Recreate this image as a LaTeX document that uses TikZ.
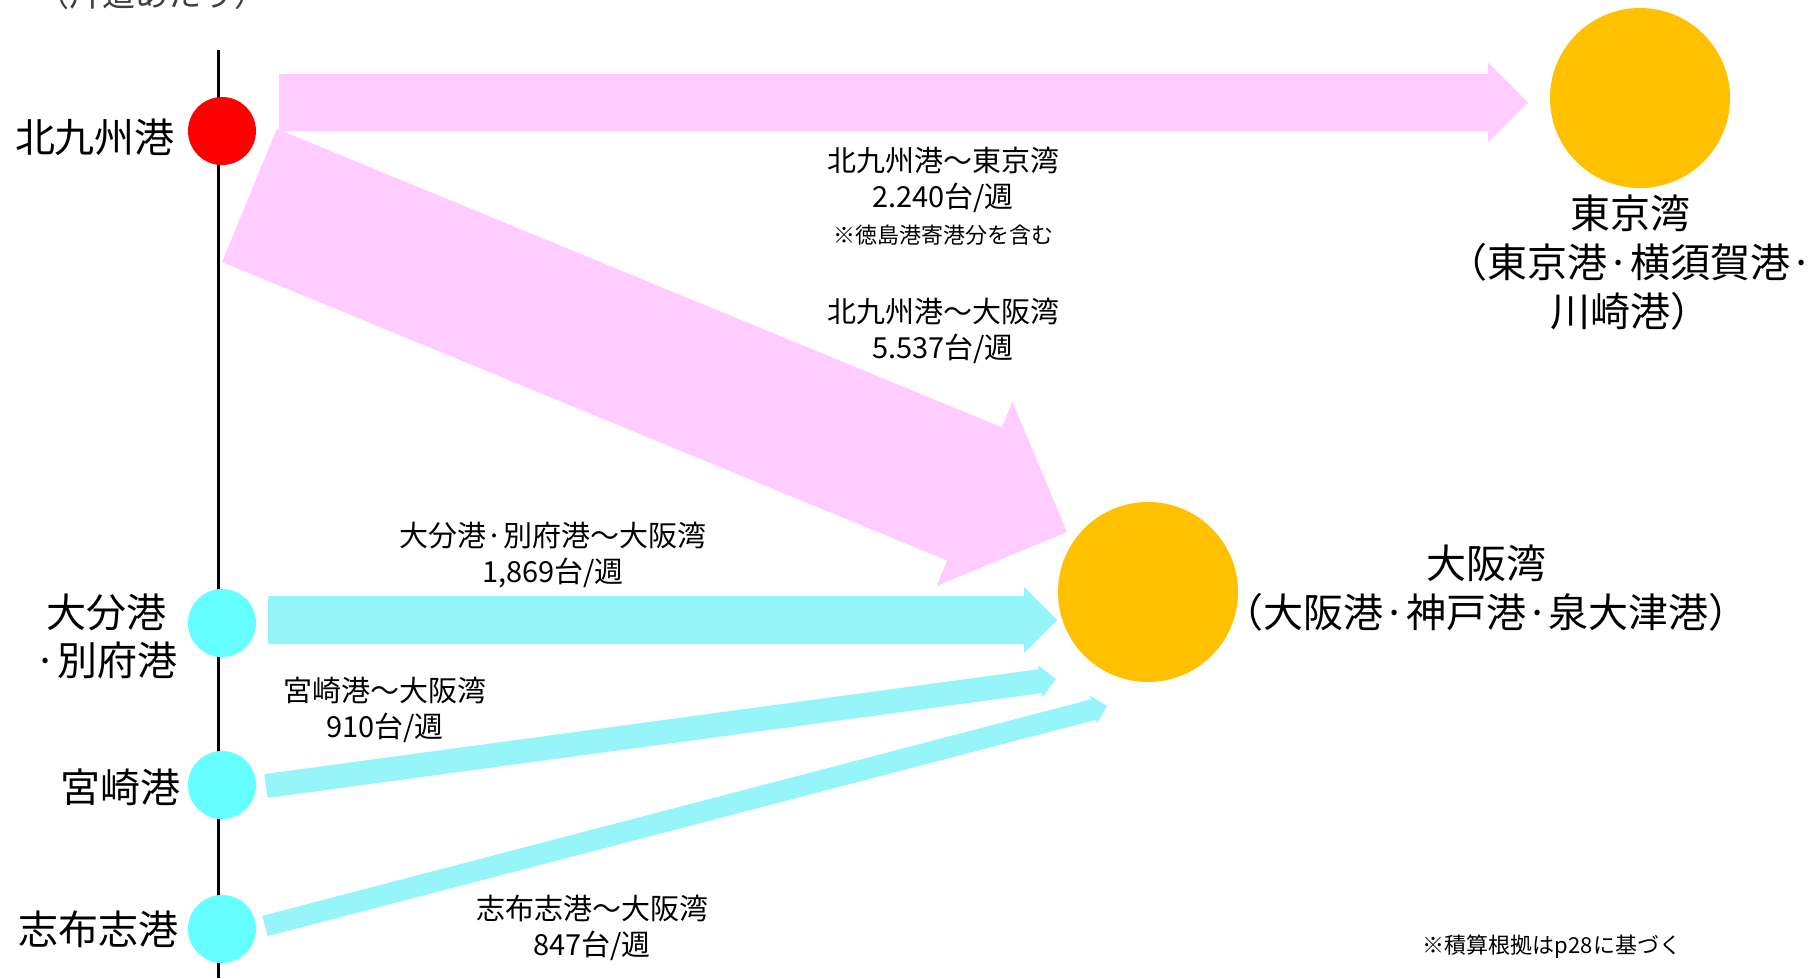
\documentclass[tikz,border=0pt]{standalone}
\usepackage{fontspec}
\setmainfont{Noto Sans CJK JP}
\usetikzlibrary{calc}
\definecolor{pinkarrow}{HTML}{FFCCFF}
\definecolor{cyanarrow}{HTML}{96F5F8}
\definecolor{cyandot}{HTML}{66FFFF}
\definecolor{bayorange}{HTML}{FFC000}
\definecolor{topgray}{HTML}{404040}
\newcommand\blockarrow[6]{%
  \coordinate (ba-h) at ($(#2)!#5!(#1)$);
  \fill[#6] ($(#1)!#3!90:(#2)$) -- ($(ba-h)!#3!90:(#2)$) -- ($(ba-h)!#4!90:(#2)$)
    -- (#2) -- ($(ba-h)!#4!-90:(#2)$) -- ($(ba-h)!#3!-90:(#2)$)
    -- ($(#1)!#3!-90:(#2)$) -- cycle;}
\tikzset{
  port/.style={circle, inner sep=0pt, minimum size=68pt},
  bay/.style={circle, inner sep=0pt, minimum size=180pt, fill=bayorange},
  portlabel/.style={inner sep=0pt, align=center, font=\fontsize{40}{48}\selectfont},
  baylabel/.style={inner sep=0pt, align=center, font=\fontsize{40}{49}\selectfont},
  routelabel/.style={inner sep=0pt, align=center, font=\fontsize{29}{36}\selectfont},
  notelabel/.style={inner sep=0pt, font=\fontsize{22}{24}\selectfont},
}
\begin{document}
\begin{tikzpicture}[x=1pt,y=-1pt]
\useasboundingbox[fill=white] (0,0) rectangle (1816,978);
% axis line
\coordinate (axtop) at (218,50);
\coordinate (axbot) at (218,978);
\draw[line width=3pt] (axtop) -- (axbot);
% arrow end points
\coordinate (a1s) at (279,102.5);   \coordinate (a1t) at (1528,102.5);
\coordinate (a2s) at (249.5,195.5); \coordinate (a2t) at (1067,532);
\coordinate (a3s) at (268,620);     \coordinate (a3t) at (1057,620);
\coordinate (a4s) at (266,786);     \coordinate (a4t) at (1056,679);
\coordinate (a5s) at (265,926);     \coordinate (a5t) at (1107,706);
\blockarrow{a1s}{a1t}{28.5pt}{40pt}{40pt}{pinkarrow}
\blockarrow{a2s}{a2t}{72pt}{99.5pt}{100pt}{pinkarrow}
\blockarrow{a3s}{a3t}{24pt}{33pt}{33pt}{cyanarrow}
\blockarrow{a4s}{a4t}{12pt}{16pt}{16pt}{cyanarrow}
\blockarrow{a5s}{a5t}{10.5pt}{14.5pt}{14pt}{cyanarrow}
% port circles
\node[port, fill=red] (kita) at (222,131) {};
\node[port, fill=cyandot] (oita) at (222,623) {};
\node[port, fill=cyandot] (miya) at (222,785) {};
\node[port, fill=cyandot] (shibu) at (222,929) {};
\node[bay] (tokyo) at (1640,98) {};
\node[bay] (osaka) at (1148,592) {};
% port labels
\node[portlabel] (lkita) at (95,137) {北九州港};
\node[portlabel] (loita) at (106,636) {大分港\\·別府港};
\node[portlabel] (lmiya) at (120,787) {宮崎港};
\node[portlabel] (lshibu) at (98,929) {志布志港};
\node[baylabel] (ltokyo) at (1630,263) {東京湾\\（東京港·横須賀港·\\川崎港）};
\node[baylabel] (losaka) at (1486,588) {大阪湾\\（大阪港·神戸港·泉大津港）};
% route labels
\node[routelabel] (r1) at (943,180) {北九州港～東京湾\\2.240台/週};
\node[notelabel] (r1n) at (943,235) {※徳島港寄港分を含む};
\node[routelabel] (r2) at (943,331) {北九州港～大阪湾\\5.537台/週};
\node[routelabel] (r3) at (553,555) {大分港·別府港～大阪湾\\1,869台/週};
\node[routelabel] (r4) at (385,710) {宮崎港～大阪湾\\910台/週};
\node[routelabel] (r5) at (592,928) {志布志港～大阪湾\\847台/週};
\node[notelabel] (foot) at (1552,947) {※積算根拠はp28に基づく};
\node[inner sep=0pt, text=topgray, font=\fontsize{33}{36}\selectfont] (top) at (152,-6) {（片道あたり）};
\end{tikzpicture}
\end{document}
